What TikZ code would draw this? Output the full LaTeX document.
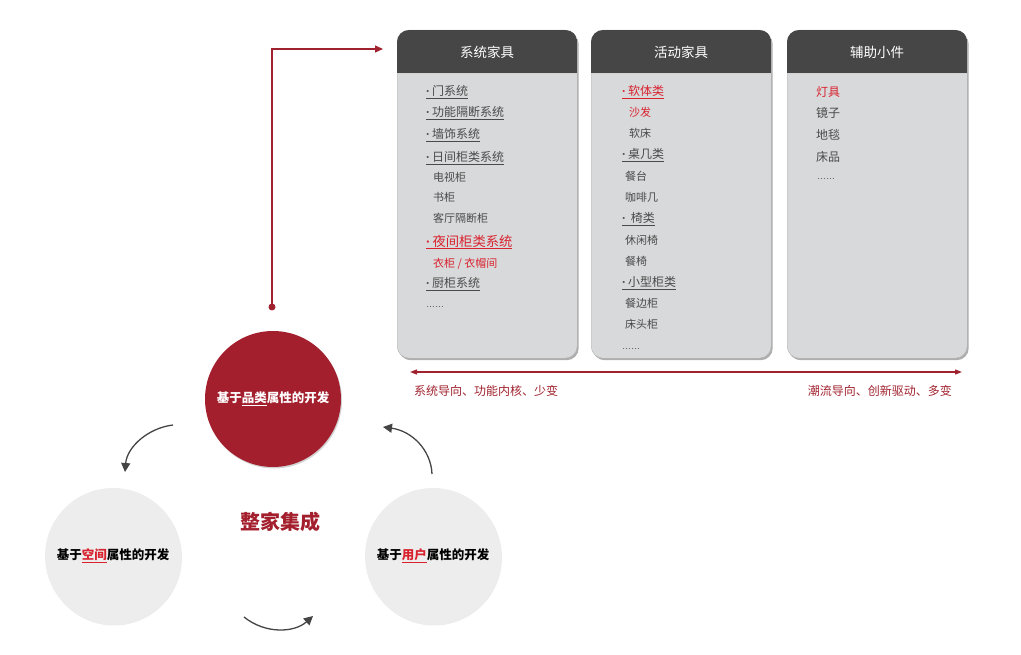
\documentclass[tikz,border=0pt]{standalone}
\usepackage{fontspec}
\setmainfont{Noto Sans CJK SC}
\newfontfamily\latinf{Liberation Sans}
\newcommand\mdot{{\latinf\bfseries ·}\hspace{2pt}}
\usetikzlibrary{shadows,arrows.meta}
\definecolor{boxgray}{HTML}{D8D9DA}
\definecolor{headgray}{HTML}{464646}
\definecolor{itemgray}{HTML}{4A4A4A}
\definecolor{hired}{HTML}{D8222E}
\definecolor{darkred}{HTML}{A0222E}
\definecolor{circred}{HTML}{A31F2D}
\definecolor{circgray}{HTML}{EDEDED}
\definecolor{arrgray}{HTML}{444444}
\tikzset{
  panel/.style={draw=gray!60, fill=boxgray, rounded corners=12pt, minimum width=180pt, minimum height=328pt, anchor=north west, inner sep=0pt,
     drop shadow={shadow xshift=1.5pt, shadow yshift=-2pt, opacity=0.45, fill=black!70}},
  headtxt/.style={text=white, font=\fontsize{13.5}{15}\selectfont},
  mainitem/.style={anchor=west, inner sep=0pt, text=itemgray, font=\fontsize{12}{14}\selectfont},
  subitem/.style={anchor=west, inner sep=0pt, text=itemgray, font=\fontsize{11}{13}\selectfont},
  reditem/.style={mainitem, text=hired},
  redsub/.style={subitem, text=hired},
  dots/.style={anchor=west, inner sep=0pt, text=itemgray, font=\latinf\fontsize{9}{10}\selectfont},
  bigcirc/.style={circle, minimum size=136pt, inner sep=0pt, font=\bfseries\fontsize{12.5}{14}\selectfont},
  cyc/.style={draw=arrgray, line width=1.3pt, -{Triangle[length=9pt,width=9pt]}},
  bottomlab/.style={inner sep=0pt, text=darkred, font=\fontsize{12}{14}\selectfont}
}
\begin{document}
\begin{tikzpicture}[x=1pt,y=-1pt]
\useasboundingbox (0,0) rectangle (1021,655);

% panels
\foreach \n/\x in {b1/397,b2/591,b3/787}{
  \node[panel] (\n) at (\x,30) {};
  \begin{scope}
    \clip[rounded corners=12pt] (\n.north west) rectangle (\n.south east);
    \fill[headgray] (\n.north west) rectangle ([yshift=-43pt]\n.north east);
    \draw[gray!35, line width=1pt] ([yshift=-43.5pt]\n.north west) -- ([yshift=-43.5pt]\n.north east);
  \end{scope}
}
\node[headtxt] (h1) at (487,52) {系统家具};
\node[headtxt] (h2) at (681,52) {活动家具};
\node[headtxt] (h3) at (877,52) {辅助小件};

% panel 1
\node[mainitem] (p1a) at (426,92) {\underline{\mdot 门系统}};
\node[mainitem] (p1b) at (426,113) {\underline{\mdot 功能隔断系统}};
\node[mainitem] (p1c) at (426,135) {\underline{\mdot 墙饰系统}};
\node[mainitem] (p1d) at (426,158) {\underline{\mdot 日间柜类系统}};
\node[subitem] (p1e) at (433,177) {电视柜};
\node[subitem] (p1f) at (433,197) {书柜};
\node[subitem] (p1g) at (433,218) {客厅隔断柜};
\node[reditem, font=\fontsize{13.3}{15}\selectfont] (p1h) at (426,242) {\underline{\mdot 夜间柜类系统}};
\node[redsub] (p1i) at (433,264) {衣柜 / 衣帽间};
\node[mainitem] (p1j) at (426,284) {\underline{\mdot 厨柜系统}};
\node[dots] (p1k) at (426,307) {……};

% panel 2
\node[reditem] (p2a) at (622,92) {\underline{\mdot 软体类}};
\node[redsub] (p2b) at (629,112) {沙发};
\node[subitem] (p2c) at (629,133) {软床};
\node[mainitem] (p2d) at (622,155) {\underline{\mdot 桌几类}};
\node[subitem] (p2e) at (625,176) {餐台};
\node[subitem] (p2f) at (625,197) {咖啡几};
\node[mainitem] (p2g) at (622,219) {\underline{\mdot\ 椅类}};
\node[subitem] (p2h) at (625,240) {休闲椅};
\node[subitem] (p2i) at (625,261) {餐椅};
\node[mainitem] (p2j) at (622,283) {\underline{\mdot 小型柜类}};
\node[subitem] (p2k) at (625,303) {餐边柜};
\node[subitem] (p2l) at (625,324) {床头柜};
\node[dots] (p2m) at (622,349) {……};

% panel 3
\node[reditem] (p3a) at (816,92) {灯具};
\node[mainitem] (p3b) at (816,113) {镜子};
\node[mainitem] (p3c) at (816,135) {地毯};
\node[mainitem] (p3d) at (816,157) {床品};
\node[dots] (p3e) at (817,179) {……};

% spectrum arrow
\coordinate (aL) at (410,372);
\coordinate (aR) at (962,372);
\draw[darkred, line width=1.2pt, {Triangle[length=7pt,width=5pt]}-{Triangle[length=7pt,width=5pt]}] (aL) -- (aR);
\node[bottomlab, anchor=west] (lL) at (414,391) {系统导向、功能内核、少变};
\node[bottomlab, anchor=east] (lR) at (952,391) {潮流导向、创新驱动、多变};

% circles
\node[bigcirc, fill=circred, text=white, drop shadow={shadow xshift=1pt, shadow yshift=-1.5pt, opacity=0.35}] (cat) at (273,399) {基于\underline{品类}属性的开发};
\node[bigcirc, fill=circgray, text=black, drop shadow={shadow xshift=1pt, shadow yshift=-1.5pt, opacity=0.15}] (spa) at (113,556) {基于\textcolor{hired}{\underline{空间}}属性的开发};
\node[bigcirc, fill=circgray, text=black, drop shadow={shadow xshift=1pt, shadow yshift=-1.5pt, opacity=0.15}] (usr) at (433,556) {基于\textcolor{hired}{\underline{用户}}属性的开发};
\node[text=circred, font=\bfseries\fontsize{20}{24}\selectfont] (mid) at (280,522) {整家集成};

% L connector
\node[circle, fill=darkred, inner sep=0pt, minimum size=7pt] (dot) at (272,307) {};
\coordinate (tip) at (383,49);
\draw[darkred, line width=1.2pt, -{Triangle[length=8pt,width=7pt]}] (dot.center) |- (tip);

% cycle arrows
\coordinate (c1s) at (173,425); \coordinate (c1e) at (125,472);
\coordinate (c2s) at (432,474); \coordinate (c2e) at (383,427);
\coordinate (c3s) at (244,617); \coordinate (c3e) at (313,616);
\draw[cyc] (c1s) .. controls (148,428) and (127,447) .. (c1e);
\draw[cyc] (c2s) .. controls (431,450) and (412,431) .. (c2e);
\draw[cyc] (c3s) .. controls (265,634) and (294,633) .. (c3e);
\end{tikzpicture}
\end{document}
